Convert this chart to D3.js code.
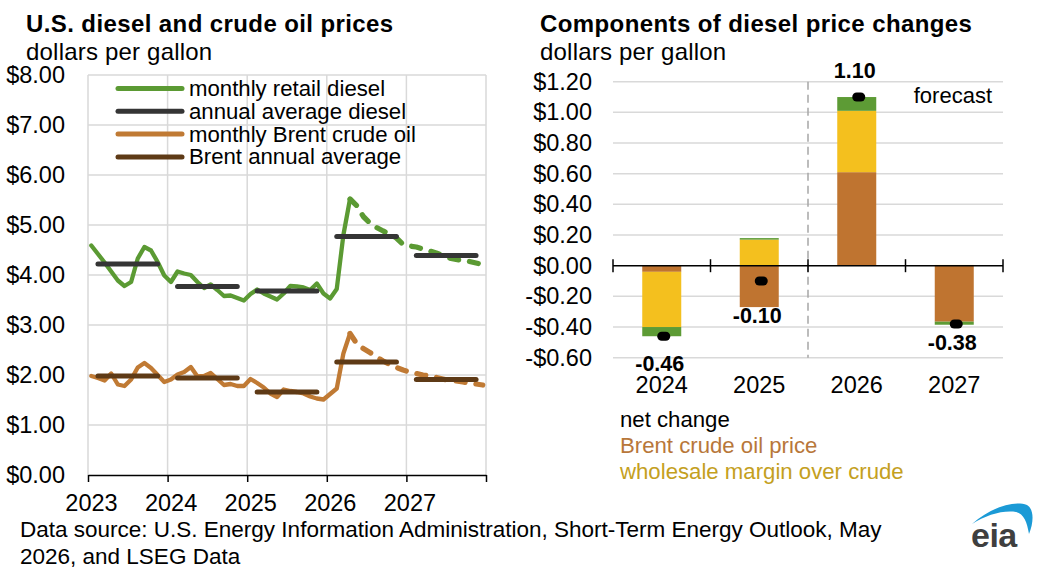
<!DOCTYPE html>
<html>
<head>
<meta charset="utf-8">
<script src="https://cdn.jsdelivr.net/npm/d3@7"></script>
<style>
  body { margin: 0; background: #fff; }
  svg text { font-family: "Liberation Sans", Arial, sans-serif; }
</style>
</head>
<body>
<div id="chart"></div>
<script>
// ---- data ----
let yearTicks = [2023, 2024, 2025, 2026, 2027, 2028];
let years = [2023, 2024, 2025, 2026, 2027];

// Jan 2023 .. Dec 2027, monthly, dollars per gallon
let dieselMonthly = [
  4.59, 4.42, 4.25, 4.07, 3.89, 3.78, 3.86, 4.33, 4.56, 4.49, 4.26, 3.99,
  3.86, 4.07, 4.03, 4.00, 3.86, 3.74, 3.81, 3.70, 3.58, 3.59, 3.54, 3.49,
  3.62, 3.71, 3.63, 3.57, 3.51, 3.63, 3.78, 3.77, 3.75, 3.70, 3.83, 3.63,
  3.53, 3.72, 4.80, 5.52, 5.39, 5.17, 5.04, 4.95, 4.88, 4.82, 4.74, 4.61,
  4.58, 4.56, 4.52, 4.48, 4.44, 4.39, 4.34, 4.31, 4.29, 4.27, 4.24, 4.21
];
let brentMonthly = [
  1.98, 1.94, 1.89, 2.03, 1.81, 1.78, 1.91, 2.15, 2.24, 2.14, 2.00, 1.86,
  1.91, 2.01, 2.06, 2.16, 1.97, 1.98, 2.04, 1.92, 1.80, 1.82, 1.78, 1.78,
  1.92, 1.84, 1.75, 1.63, 1.56, 1.71, 1.68, 1.66, 1.63, 1.57, 1.53, 1.51,
  1.62, 1.73, 2.43, 2.83, 2.63, 2.53, 2.45, 2.36, 2.28, 2.21, 2.15, 2.10,
  2.06, 2.03, 2.00, 1.98, 1.95, 1.92, 1.89, 1.88, 1.86, 1.84, 1.82, 1.80
];
let dieselAnnual = [4.22, 3.77, 3.68, 4.77, 4.39];
let brentAnnual = [1.98, 1.94, 1.66, 2.26, 1.91];
let lastHistory = 39; // Apr 2026, forecast after this

let changeYears = ['2024', '2025', '2026', '2027'];
let brentChange = [-0.04, -0.27, 0.61, -0.365];
let wholesaleChange = [-0.36, 0.17, 0.40, 0.005];
let retailChange = [-0.06, 0.01, 0.09, -0.02];
let netChange = [-0.46, -0.10, 1.10, -0.38];

let leftTicks = [0, 1, 2, 3, 4, 5, 6, 7, 8];
let rightTicks = [-0.6, -0.4, -0.2, 0, 0.2, 0.4, 0.6, 0.8, 1.0, 1.2];

// ---- colours ----
let green = '#5b9a33';
let darkGray = '#353535';
let brentOrange = '#c07a34';
let brentBrown = '#5e3a16';
let barBrent = '#bf7430';
let barYellow = '#f4c01e';
let barGreen = '#5d9b35';
let grid = '#d9d9d9';

let svg = d3.select('#chart').append('svg')
  .attr('width', 1042)
  .attr('height', 588);

// ================= left chart =================
let xScale = d3.scaleLinear().domain([2023, 2028]).range([88, 486]);
let yScale = d3.scaleLinear().domain([0, 8]).range([475, 75]);
let monthX = i => xScale(2023 + (i + 0.5) / 12);

svg.append('text').text('U.S. diesel and crude oil prices')
  .attr('x', 26).attr('y', 32)
  .style('font-size', '24px').style('font-weight', 'bold').style('letter-spacing', '0.4px');
svg.append('text').text('dollars per gallon')
  .attr('x', 26).attr('y', 60)
  .style('font-size', '24px').style('letter-spacing', '0.2px');

let left = svg.append('g');

left.selectAll('.hgrid').data(leftTicks.filter(d => d > 0)).enter()
  .append('line')
  .attr('x1', xScale(2023)).attr('x2', xScale(2028))
  .attr('y1', d => yScale(d)).attr('y2', d => yScale(d))
  .attr('stroke', grid).attr('stroke-width', 1.5);

left.selectAll('.vgrid').data(yearTicks).enter()
  .append('line')
  .attr('x1', d => xScale(d)).attr('x2', d => xScale(d))
  .attr('y1', yScale(8)).attr('y2', yScale(0))
  .attr('stroke', grid).attr('stroke-width', 1.5);

let yAxisL = left.append('g')
  .attr('transform', 'translate(' + xScale(2023) + ',0)')
  .call(d3.axisLeft(yScale).tickValues(leftTicks).tickSize(0).tickPadding(23)
    .tickFormat(d => '$' + d.toFixed(2)));
yAxisL.select('.domain').remove();
yAxisL.selectAll('text').style('font-size', '23.5px').attr('fill', '#000')
  .style('font-family', '"Liberation Sans", Arial, sans-serif');

let xAxisL = left.append('g')
  .attr('transform', 'translate(0,' + yScale(0) + ')')
  .call(d3.axisBottom(xScale).tickValues(yearTicks).tickSize(7).tickSizeOuter(0)
    .tickFormat(d => d < 2028 ? d : ''));
xAxisL.select('.domain').attr('stroke', '#000').attr('stroke-width', 1.5);
xAxisL.selectAll('line').attr('stroke', '#000').attr('stroke-width', 1.5);
xAxisL.selectAll('text').style('font-size', '23.5px').attr('fill', '#000')
  .attr('y', 19).attr('dx', 3)
  .style('font-family', '"Liberation Sans", Arial, sans-serif');

let monthLine = d3.line().x(d => monthX(d.i)).y(d => yScale(d.v));

function drawMonthly(values, color) {
  let pts = values.map((v, i) => ({i: i, v: v}));
  left.append('path').datum(pts.slice(0, lastHistory + 1))
    .attr('d', monthLine).attr('fill', 'none')
    .attr('stroke', color).attr('stroke-width', 4.3)
    .attr('stroke-linejoin', 'round').attr('stroke-linecap', 'round');
  left.append('path').datum(pts.slice(lastHistory))
    .attr('d', monthLine).attr('fill', 'none')
    .attr('stroke', color).attr('stroke-width', 5.3)
    .attr('stroke-dasharray', '9,11')
    .attr('stroke-linejoin', 'round').attr('stroke-linecap', 'round');
}

function drawAnnual(values, color) {
  left.selectAll(null).data(values).enter()
    .append('line')
    .attr('x1', (d, k) => monthX(k * 12 + 1))
    .attr('x2', (d, k) => monthX(k * 12 + 10))
    .attr('y1', d => yScale(d)).attr('y2', d => yScale(d))
    .attr('stroke', color).attr('stroke-width', 5)
    .attr('stroke-linecap', 'round');
}

drawMonthly(brentMonthly, brentOrange);
drawAnnual(brentAnnual, brentBrown);
drawMonthly(dieselMonthly, green);
drawAnnual(dieselAnnual, darkGray);

// legend
let legendItems = [
  {label: 'monthly retail diesel', color: green},
  {label: 'annual average diesel', color: darkGray},
  {label: 'monthly Brent crude oil', color: brentOrange},
  {label: 'Brent annual average', color: brentBrown}
];
let legend = left.selectAll('.leg').data(legendItems).enter()
  .append('g')
  .attr('transform', (d, k) => 'translate(0,' + (88.5 + k * 22.8) + ')');
legend.append('line')
  .attr('x1', 118).attr('x2', 182).attr('y1', 0).attr('y2', 0)
  .attr('stroke', d => d.color).attr('stroke-width', 5).attr('stroke-linecap', 'round');
legend.append('text').text(d => d.label)
  .attr('x', 189).attr('y', 7.5)
  .style('font-size', '22.2px');

// ================= right chart =================
let xBand = d3.scaleBand().domain(changeYears).range([613, 1003]).padding(0);
let yRight = d3.scaleLinear().domain([-0.6, 1.2]).range([357.7, 81.7]);
let barW = xBand.bandwidth() * 0.4;

svg.append('text').text('Components of diesel price changes')
  .attr('x', 540).attr('y', 32)
  .style('font-size', '24px').style('font-weight', 'bold').style('letter-spacing', '0.4px');
svg.append('text').text('dollars per gallon')
  .attr('x', 540).attr('y', 60)
  .style('font-size', '24px').style('letter-spacing', '0.2px');

let right = svg.append('g');

right.selectAll('.rgrid').data(rightTicks.filter(d => d !== 0)).enter()
  .append('line')
  .attr('x1', 613).attr('x2', 1003)
  .attr('y1', d => yRight(d)).attr('y2', d => yRight(d))
  .attr('stroke', grid).attr('stroke-width', 1.5);

let yAxisR = right.append('g')
  .attr('transform', 'translate(613,0)')
  .call(d3.axisLeft(yRight).tickValues(rightTicks).tickSize(0).tickPadding(21)
    .tickFormat(d => (d < -1e-9 ? '-' : '') + '$' + Math.abs(d).toFixed(2)));
yAxisR.select('.domain').remove();
yAxisR.selectAll('text').style('font-size', '23.5px').attr('fill', '#000')
  .style('font-family', '"Liberation Sans", Arial, sans-serif');

let table = changeYears.map((y, k) => ({
  year: y, brent: brentChange[k], wholesale: wholesaleChange[k], retail: retailChange[k]
}));
let keys = ['brent', 'wholesale', 'retail'];
let barColors = {brent: barBrent, wholesale: barYellow, retail: barGreen};
let series = d3.stack().keys(keys).offset(d3.stackOffsetDiverging)(table);

right.selectAll('.series').data(series).enter()
  .append('g').attr('fill', s => barColors[s.key])
  .selectAll('rect').data(s => s).enter()
  .append('rect')
  .attr('x', d => xBand(d.data.year) + (xBand.bandwidth() - barW) / 2)
  .attr('width', barW)
  .attr('y', d => yRight(Math.max(d[0], d[1])))
  .attr('height', d => Math.abs(yRight(d[0]) - yRight(d[1])));

// forecast divider
right.append('line')
  .attr('x1', xBand('2026')).attr('x2', xBand('2026'))
  .attr('y1', yRight(1.2)).attr('y2', yRight(-0.6))
  .attr('stroke', '#a6a6a6').attr('stroke-width', 1.5).attr('stroke-dasharray', '8,5');

right.append('text').text('forecast')
  .attr('x', 992).attr('y', 103).attr('text-anchor', 'end')
  .style('font-size', '22px');

// zero axis with ticks
right.append('line')
  .attr('x1', 613).attr('x2', 1003)
  .attr('y1', yRight(0)).attr('y2', yRight(0))
  .attr('stroke', '#000').attr('stroke-width', 1.5);
right.selectAll('.ztick').data(changeYears.map(d => xBand(d)).concat([1003])).enter()
  .append('line')
  .attr('x1', d => d).attr('x2', d => d)
  .attr('y1', yRight(0) - 6.5).attr('y2', yRight(0) + 6.5)
  .attr('stroke', '#000').attr('stroke-width', 1.5);

// net change markers
right.selectAll('.net').data(netChange).enter()
  .append('rect')
  .attr('x', (d, k) => xBand(changeYears[k]) + xBand.bandwidth() / 2 + 2 - 6.5)
  .attr('y', d => yRight(d) - 4.5)
  .attr('width', 13).attr('height', 9).attr('rx', 4.5)
  .attr('fill', '#000');

let labelOffset = [35, 42, -19, 26];
right.selectAll('.netlab').data(netChange).enter()
  .append('text')
  .text(d => d.toFixed(2))
  .attr('x', (d, k) => xBand(changeYears[k]) + xBand.bandwidth() / 2 - 2)
  .attr('y', (d, k) => yRight(d) + labelOffset[k])
  .attr('text-anchor', 'middle')
  .style('font-size', '21.5px').style('font-weight', 'bold');

right.selectAll('.xlab').data(changeYears).enter()
  .append('text').text(d => d)
  .attr('x', d => xBand(d) + xBand.bandwidth() / 2)
  .attr('y', 393)
  .attr('text-anchor', 'middle')
  .style('font-size', '23.5px');

// right legend (text only)
let rightLegend = [
  {label: 'net change', color: '#000'},
  {label: 'Brent crude oil price', color: '#b8773a'},
  {label: 'wholesale margin over crude', color: '#c4a01e'}
];
right.selectAll('.rleg').data(rightLegend).enter()
  .append('text').text(d => d.label)
  .attr('x', 620).attr('y', (d, k) => 427 + k * 26)
  .attr('fill', d => d.color)
  .style('font-size', '22.2px');

// ================= footer =================
svg.append('text').text('Data source: U.S. Energy Information Administration, Short-Term Energy Outlook, May')
  .attr('x', 20).attr('y', 537).style('font-size', '22.5px');
svg.append('text').text('2026, and LSEG Data')
  .attr('x', 20).attr('y', 564).style('font-size', '22.5px');

// eia logo
let logo = svg.append('g');
logo.append('path')
  .attr('d', 'M972,524 C990,508 1013,500 1027,505 C1034,509 1034,522 1029,534 C1027,522 1024,514 1016,512 C1003,510 986,515 972,524 Z')
  .attr('fill', '#1b9ad6');
logo.append('text').text('eia')
  .attr('x', 971).attr('y', 547)
  .attr('fill', '#3f3f3f')
  .style('font-size', '34px').style('font-weight', 'bold').style('letter-spacing', '-0.5px');
</script>
</body>
</html>
